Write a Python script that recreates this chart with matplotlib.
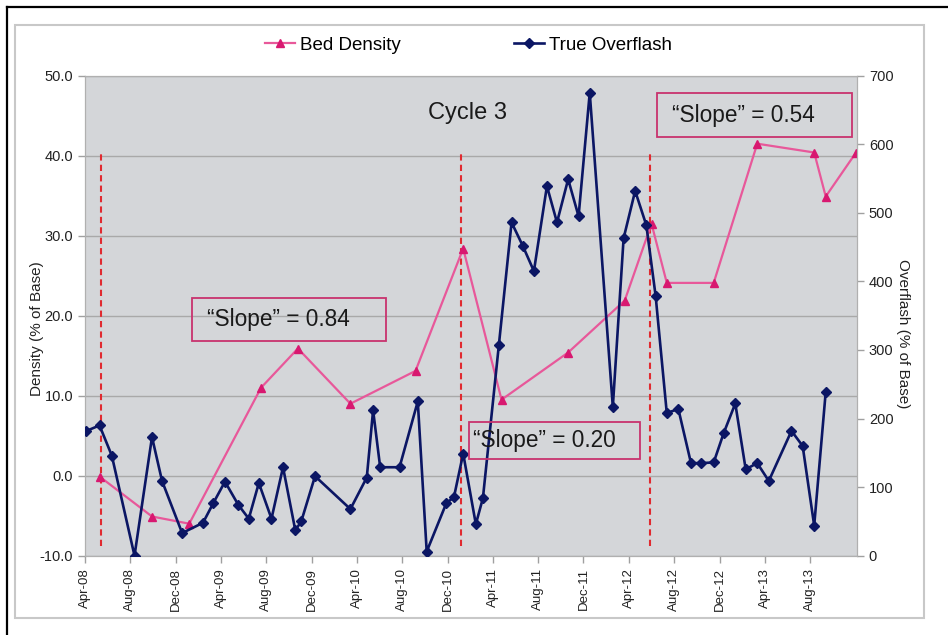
import matplotlib
matplotlib.use('Agg')
import matplotlib.pyplot as plt
import matplotlib.dates as mdates
import pandas as pd
from matplotlib.patches import Rectangle
from matplotlib.lines import Line2D

plt.rcParams['font.family'] = ['Liberation Sans', 'DejaVu Sans']

# Bed density (% of base), left axis
density_dates = ['2008-05-10', '2008-09-28', '2009-01-06', '2009-07-18', '2009-10-25',
                 '2010-03-15', '2010-09-06', '2011-01-12', '2011-04-25', '2011-10-21',
                 '2012-03-21', '2012-06-01', '2012-07-12', '2012-11-15', '2013-03-12',
                 '2013-08-12', '2013-09-12', '2013-12-01']
density = [-0.1, -5.1, -6.0, 11.0, 15.9, 9.0, 13.1, 28.4, 9.5, 15.4,
           21.9, 31.5, 24.1, 24.1, 41.5, 40.4, 34.9, 40.3]

# True overflash (% of base), right axis
overflash_dates = ['2008-04-05', '2008-05-10', '2008-06-12', '2008-08-12', '2008-09-28',
                   '2008-10-25', '2008-12-18', '2009-02-12', '2009-03-12', '2009-04-12',
                   '2009-05-18', '2009-06-15', '2009-07-12', '2009-08-15', '2009-09-15',
                   '2009-10-18', '2009-11-03', '2009-12-10', '2010-03-15', '2010-04-28',
                   '2010-05-15', '2010-06-03', '2010-07-25', '2010-09-12', '2010-10-06',
                   '2010-11-28', '2010-12-18', '2011-01-12', '2011-02-15', '2011-03-06',
                   '2011-04-18', '2011-05-22', '2011-06-21', '2011-07-21', '2011-08-25',
                   '2011-09-21', '2011-10-21', '2011-11-18', '2011-12-18', '2012-02-18',
                   '2012-03-18', '2012-04-18', '2012-05-18', '2012-06-12', '2012-07-12',
                   '2012-08-12', '2012-09-15', '2012-10-12', '2012-11-15', '2012-12-12',
                   '2013-01-12', '2013-02-09', '2013-03-12', '2013-04-12', '2013-06-12',
                   '2013-07-12', '2013-08-12', '2013-09-12']
overflash = [182, 190, 146, 0, 173, 109, 33, 48, 77, 108,
             74, 54, 106, 54, 129, 37, 50, 116, 68, 114,
             212, 129, 129, 225, 6, 77, 85, 149, 46, 84,
             308, 486, 452, 415, 539, 486, 549, 495, 675, 217,
             463, 532, 482, 379, 208, 214, 135, 135, 136, 179,
             222, 126, 135, 109, 182, 160, 44, 239]

tick_dates = pd.date_range('2008-04-01', '2013-08-01', freq='4MS')
cycle_breaks = ['2008-05-13', '2011-01-07', '2012-05-28']
slope_labels = ['\u201cSlope\u201d = 0.84', '\u201cSlope\u201d = 0.20', '\u201cSlope\u201d = 0.54']

pink_line = '#e8589a'
pink_mark = '#d81870'
navy = '#0b1664'
box_edge = '#c8336e'

fig = plt.figure(figsize=(9.48, 6.35), dpi=100)
ax = fig.add_axes([85 / 948, 1 - 555.7 / 635, 772 / 948, 480 / 635])
ax.set_facecolor('#d4d6d9')

ax.plot(pd.to_datetime(density_dates), density, color=pink_line, lw=1.6,
        marker='^', ms=6, mfc=pink_mark, mec=pink_mark, label='Bed Density', zorder=3)

for d in pd.to_datetime(cycle_breaks):
    ax.vlines(d, -8.8, 40.6, colors='#e02a30', linestyles=(0, (3, 2)), lw=1.5, zorder=2)

ax.set_ylim(-10, 50)
ax.set_yticks(range(-10, 51, 10))
ax.set_yticklabels([f'{v:.1f}' for v in range(-10, 51, 10)])
ax.grid(axis='y', color='#a9a9a9', lw=1)
ax.set_axisbelow(True)
ax.set_xlim(pd.Timestamp('2008-04-01'), pd.Timestamp('2013-12-05'))
ax.set_xticks(tick_dates)
ax.xaxis.set_major_formatter(mdates.DateFormatter('%b-%y'))
for lab in ax.get_xticklabels():
    lab.set_rotation(90)

ax2 = ax.twinx()
ax2.plot(pd.to_datetime(overflash_dates), overflash, color=navy, lw=1.9,
         marker='D', ms=5, mfc=navy, mec=navy, label='True Overflash', zorder=4)
ax2.set_ylim(0, 700)
ax2.set_yticks(range(0, 701, 100))

for a in (ax, ax2):
    for s in a.spines.values():
        s.set_color('#b0b0b0')
    a.tick_params(axis='both', colors='#a0a0a0', labelcolor='#222222',
                  length=5, width=1, labelsize=10.5)
ax.tick_params(axis='x', labelsize=9.5, pad=4)

# slope boxes
boxes = [(0.1382, 0.4473, 0.2517, 0.0902, 0.1576, 0.4925),
         (0.4974, 0.2008, 0.2215, 0.0784, 0.5022, 0.2400),
         (0.7413, 0.8729, 0.2518, 0.0904, 0.7600, 0.9180)]
for (x0, y0, w, h, tx, ty), txt in zip(boxes, slope_labels):
    ax2.add_patch(Rectangle((x0, y0), w, h, transform=ax2.transAxes, fill=False,
                            ec=box_edge, lw=1.3, zorder=6, clip_on=False))
    ax2.text(tx, ty, txt, transform=ax2.transAxes, ha='left', va='center',
             fontsize=16.3, color='#1a1a1a', zorder=7)

fig.text(468 / 948, 1 - 113 / 635, 'Cycle 3', ha='center', va='center',
         fontsize=17, color='#1a1a1a')
fig.text(36.7 / 948, 1 - 329 / 635, 'Density (% of Base)', rotation=90,
         ha='center', va='center', fontsize=11, color='#222222')
fig.text(903 / 948, 1 - 334 / 635, 'Overflash (% of Base)', rotation=270,
         ha='center', va='center', fontsize=11, color='#222222')

handles = [Line2D([], [], color=pink_line, lw=1.6, marker='^', ms=6,
                  mfc=pink_mark, mec=pink_mark),
           Line2D([], [], color=navy, lw=1.9, marker='D', ms=5, mfc=navy, mec=navy)]
fig.legend(handles, ['Bed Density', 'True Overflash'], loc='center',
           bbox_to_anchor=(468.5 / 948, 1 - 45 / 635), ncol=2, frameon=False,
           fontsize=13.5, handlelength=1.6, handletextpad=0.3, columnspacing=6.0)

# chart area border and outer frame
fig.patches.append(Rectangle((15 / 948, 1 - 618 / 635), 909 / 948, 593 / 635,
                             transform=fig.transFigure, fill=False, ec='#c8c8c8', lw=1.5))
fig.lines.append(Line2D([7 / 948, 1], [1 - 6.5 / 635] * 2, transform=fig.transFigure,
                        color='black', lw=1.6))
fig.lines.append(Line2D([7 / 948] * 2, [0, 1 - 6.5 / 635], transform=fig.transFigure,
                        color='black', lw=1.6))

fig.savefig('out.png', dpi=100, facecolor='white')
